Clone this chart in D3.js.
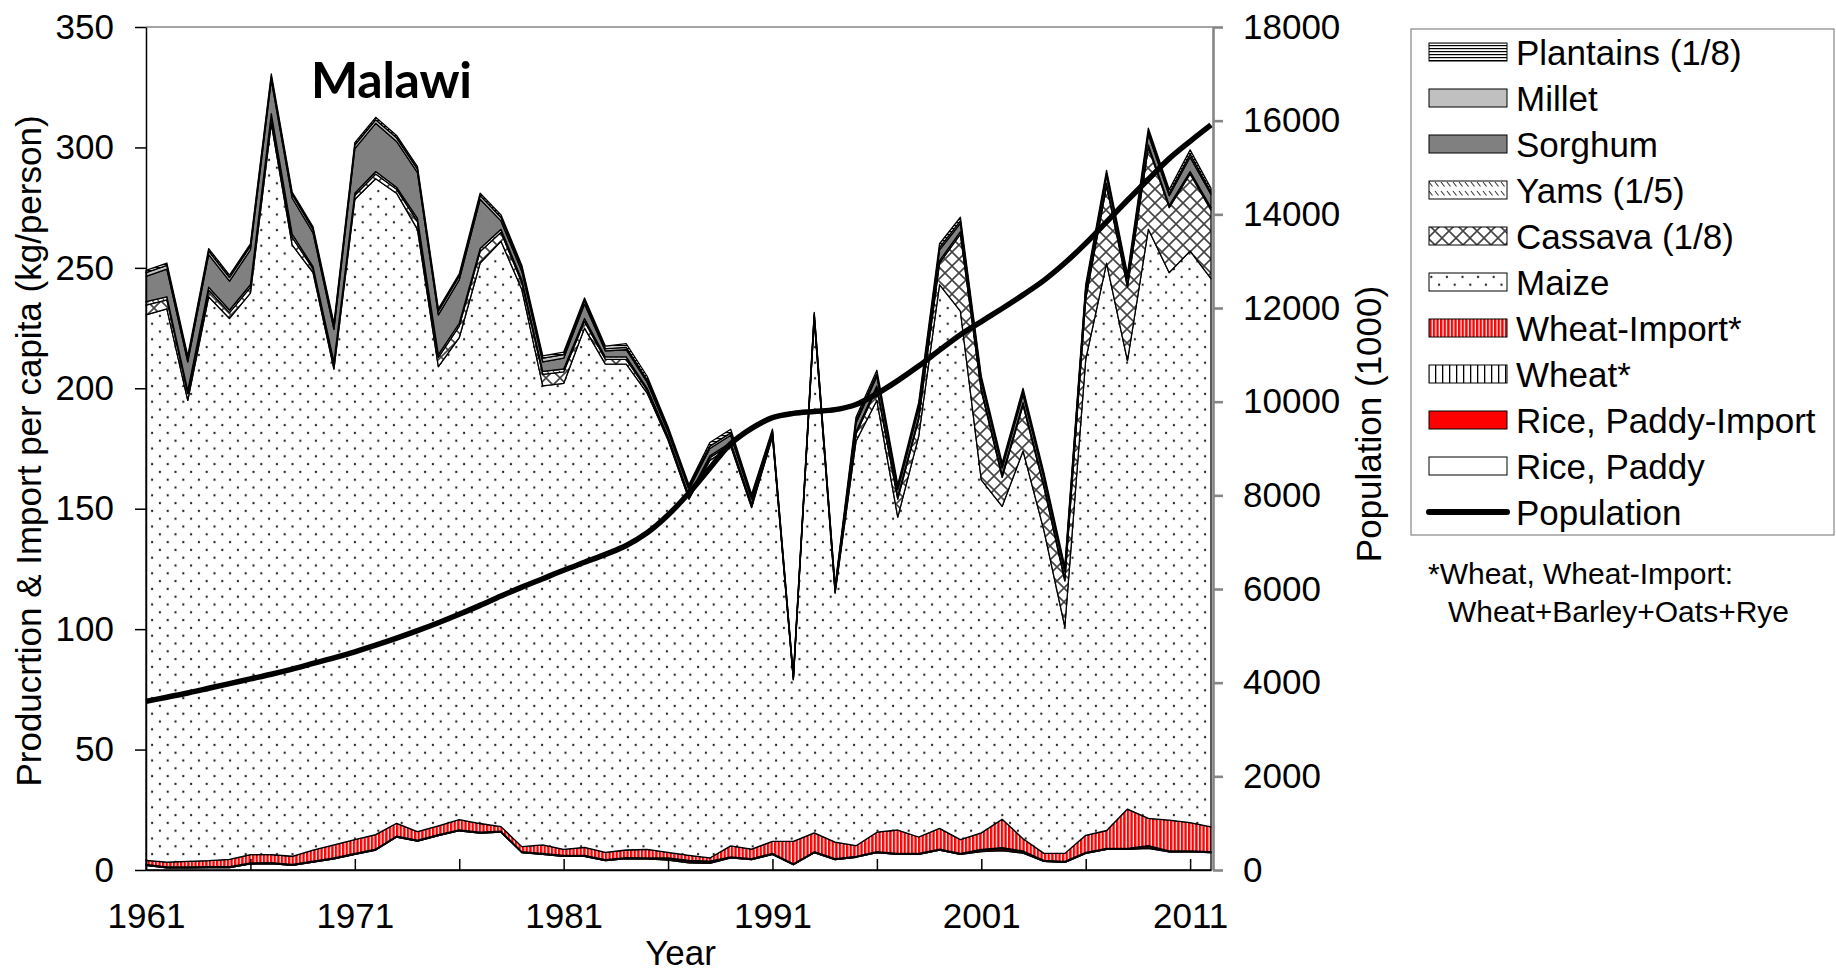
<!DOCTYPE html>
<html>
<head>
<meta charset="utf-8">
<script src="https://cdn.jsdelivr.net/npm/d3@7"></script>
<style>
  body { margin: 0; background: #fff; }
  svg text { font-family: "Liberation Sans", Arial, sans-serif; fill: #000; }
</style>
</head>
<body>
<svg id="chart" width="1836" height="972"></svg>
<script>
// values (kg/person, population in 1000)
const years = [1961,1962,1963,1964,1965,1966,1967,1968,1969,1970,
  1971,1972,1973,1974,1975,1976,1977,1978,1979,1980,
  1981,1982,1983,1984,1985,1986,1987,1988,1989,1990,
  1991,1992,1993,1994,1995,1996,1997,1998,1999,2000,
  2001,2002,2003,2004,2005,2006,2007,2008,2009,2010,
  2011,2012];

const ricePaddy = [1.9,0.9,0.9,1.0,1.0,2.5,2.7,1.9,3.3,4.6,
  6.5,8.3,13.7,12.0,14.3,16.3,15.3,15.7,7.2,6.5,
  5.7,5.7,3.9,4.7,4.6,4.1,3.0,2.8,5.0,4.3,
  6.5,2.2,7.2,4.3,5.3,7.2,6.5,6.5,8.3,6.5,
  7.6,8.1,7.0,3.6,3.2,6.9,8.6,8.6,9.0,7.5,
  7.5,7.2];
const riceImport = [0,0,0,0,0,0,0,0,0,0,
  0,0,0,0,0,0,0,0,0,0,
  0,0,0,0,0,0.5,0.6,0.5,0,0,
  0,0,0,0,0,0,0,0,0,0,
  0.6,0.8,0.5,0,0,0,0,0,0.7,0,
  0,0];
const wheat = [0.4,0.4,0.4,0.4,0.4,0.4,0.4,0.4,0.4,0.4,
  0.4,0.4,0.4,0.4,0.4,0.4,0.4,0.4,0.4,0.4,
  0.4,0.4,0.4,0.4,0.4,0.4,0.4,0.4,0.4,0.4,
  0.4,0.4,0.4,0.4,0.4,0.4,0.4,0.4,0.4,0.4,
  0.4,0.4,0.4,0.4,0.4,0.4,0.4,0.4,0.4,0.4,
  0.4,0.4];
const wheatImport = [1.7,2.0,2.3,2.5,3.0,3.5,3.3,3.4,4.6,5.4,
  5.7,6.0,5.3,3.5,3.6,4.2,3.6,1.9,2.1,3.5,
  2.5,3.3,3.0,3.2,3.6,2.3,2.1,1.3,4.6,4.0,
  5.0,9.3,7.8,6.9,4.4,8.1,9.7,6.8,8.6,5.7,
  6.8,11.8,5.1,2.9,3.3,7.1,7.4,16.3,11.3,12.8,
  11.8,10.3];
const maize = [226.5,229.7,191.4,234.1,224.6,233.1,303.6,253.8,239.7,197.6,
  265.9,272.3,261.6,250.1,190.7,200.1,232.7,243.0,231.3,190.6,
  193.4,215.6,202.7,201.7,189.4,171.2,147.9,165.0,166.0,141.8,
  168.1,67.1,213.1,103.4,167.9,179.3,129.9,166.3,225.7,219.4,
  146.6,129.9,161.0,134.1,94.1,197.6,235.6,186.2,244.6,227.3,
  237.3,227.6];
const cassava = [4.0,3.7,2.8,2.8,2.4,2.4,2.8,3.2,1.6,2.0,
  1.6,2.0,1.6,3.3,3.8,4.8,4.8,3.8,2.8,4.8,
  4.8,2.8,2.0,2.0,1.2,0.8,0.8,1.2,0.8,0.8,
  0.5,0.2,0.5,0.5,3.0,5.0,7.5,7.0,9.0,32.0,
  37.0,12.0,19.0,18.0,19.0,25.0,32.0,30.5,34.0,27.0,
  32.0,28.5];
const yams = [1.5,1.3,1.2,1.2,1.1,1.1,1.2,1.3,0.9,1.0,
  0.9,1.0,0.9,1.2,1.2,1.2,1.2,1.2,1.2,1.2,
  1.2,1.2,1.0,1.0,0.8,0.7,0.7,0.8,0.7,0.7,
  0.5,0.3,0.5,0.5,1.0,1.0,1.0,1.0,1.0,1.0,
  1.0,1.0,1.0,1.0,1.0,1.0,1.0,1.0,1.0,1.0,
  1.0,1.0];
const sorghum = [10.5,11.5,12.0,13.5,12.0,14.5,14.0,15.0,14.0,13.5,
  18.5,20.0,19.0,19.0,16.5,18.0,20.5,3.5,3.5,4.0,
  4.5,6.0,2.5,3.0,2.5,2.0,2.5,3.0,3.0,2.0,
  1.0,0.7,1.0,1.0,3.5,4.0,3.0,3.5,4.5,3.5,
  3.0,3.0,3.5,3.0,3.0,3.0,3.5,2.5,4.5,4.0,
  6.0,5.5];
const millet = [1.5,1.5,1.5,1.5,1.5,1.5,1.5,1.5,1.5,1.5,
  1.5,1.5,1.5,1.5,1.5,1.5,1.5,1.5,1.5,1.5,
  1.5,1.5,1.0,1.0,1.0,1.0,1.0,1.0,1.0,1.0,
  0.5,0.4,0.5,0.5,1.0,1.0,0.8,1.0,1.0,1.0,
  0.8,0.8,1.0,0.8,0.8,0.8,0.8,0.8,1.0,1.0,
  1.3,1.0];
const plantains = [1.0,1.0,1.0,1.0,1.0,1.0,1.0,1.0,1.0,1.0,
  1.0,1.0,1.0,1.0,1.0,1.0,1.0,1.0,1.0,1.0,
  1.0,1.0,1.0,1.5,1.5,1.0,1.0,1.5,1.5,1.0,
  0.5,0.4,0.5,0.5,1.5,1.5,1.2,1.5,1.5,1.5,
  1.2,1.2,1.5,1.2,1.2,1.2,1.2,1.2,1.5,1.5,
  1.7,1.5];
const population = [3600,3690,3780,3880,3980,4080,4180,4290,4410,4530,
  4660,4800,4950,5110,5280,5460,5650,5850,6040,6220,
  6400,6570,6740,6930,7200,7580,8050,8580,9100,9430,
  9660,9750,9790,9830,9940,10170,10450,10760,11100,11430,
  11710,11990,12280,12590,12960,13380,13840,14300,14750,15190,
  15560,15910];

const leftTicks = [0,50,100,150,200,250,300,350];
const rightTicks = [0,2000,4000,6000,8000,10000,12000,14000,16000,18000];
const xTickYears = [1961,1966,1971,1976,1981,1986,1991,1996,2001,2006,2011];
const xLabelYears = [1961,1971,1981,1991,2001,2011];

const seriesInfo = [
  { key: "ricePaddy",   label: "Rice, Paddy",        fill: "#ffffff" },
  { key: "riceImport",  label: "Rice, Paddy-Import", fill: "#ff0000" },
  { key: "wheat",       label: "Wheat*",             fill: "url(#pWheat)" },
  { key: "wheatImport", label: "Wheat-Import*",      fill: "url(#pWheatImp)" },
  { key: "maize",       label: "Maize",              fill: "url(#pMaize)" },
  { key: "cassava",     label: "Cassava (1/8)",      fill: "url(#pCassava)" },
  { key: "yams",        label: "Yams (1/5)",         fill: "url(#pYams)" },
  { key: "sorghum",     label: "Sorghum",            fill: "#808080" },
  { key: "millet",      label: "Millet",             fill: "#c0c0c0" },
  { key: "plantains",   label: "Plantains (1/8)",    fill: "url(#pPlantains)" }
];
const seriesData = { ricePaddy, riceImport, wheat, wheatImport, maize, cassava, yams, sorghum, millet, plantains };

const rows = years.map((yr, i) => {
  const r = { year: yr };
  seriesInfo.forEach(s => { r[s.key] = seriesData[s.key][i]; });
  return r;
});

const svg = d3.select("#chart");
const plotL = 146, plotR = 1211, plotT = 27, plotB = 870;

const x = d3.scaleLinear().domain([1961, 2012]).range([plotL, plotR]);
const yL = d3.scaleLinear().domain([0, 350]).range([plotB, plotT]);
const yR = d3.scaleLinear().domain([0, 18000]).range([plotB, plotT]);

// fill patterns
const defs = svg.append("defs");
function pat(id, w, h) {
  const p = defs.append("pattern").attr("id", id)
    .attr("patternUnits", "userSpaceOnUse").attr("width", w).attr("height", h);
  p.append("rect").attr("width", w).attr("height", h).attr("fill", "#fff");
  return p;
}
let p = pat("pMaize", 15.6, 15.6);
p.append("circle").attr("cx", 3.9).attr("cy", 3.9).attr("r", 1.15).attr("fill", "#222");
p.append("circle").attr("cx", 11.7).attr("cy", 11.7).attr("r", 1.15).attr("fill", "#222");

p = pat("pCassava", 14, 14);
p.append("path").attr("d", "M0,0L14,14M14,0L0,14").attr("stroke", "#444").attr("stroke-width", 1.6);

p = pat("pYams", 6, 9);
p.append("path").attr("d", "M1,2L4.5,6.5").attr("stroke", "#333").attr("stroke-width", 1.1);

p = pat("pPlantains", 6, 3);
p.append("rect").attr("y", 0).attr("width", 6).attr("height", 1.2).attr("fill", "#000");

p = pat("pWheatImp", 3.6, 6);
p.append("rect").attr("x", 0).attr("width", 2.4).attr("height", 6).attr("fill", "#ff0000");

p = pat("pWheat", 7, 6);
p.append("rect").attr("x", 0).attr("width", 1.3).attr("height", 6).attr("fill", "#000");

// stacked areas
const stacked = d3.stack().keys(seriesInfo.map(s => s.key))(rows);
const area = d3.area()
  .x(d => x(d.data.year))
  .y0(d => yL(d[0]))
  .y1(d => yL(d[1]));

svg.append("g").selectAll("path")
  .data(stacked)
  .enter().append("path")
  .attr("d", area)
  .attr("fill", (d, i) => seriesInfo[i].fill)
  .attr("stroke", "#000")
  .attr("stroke-width", 1.3)
  .attr("stroke-linejoin", "round");

// population on secondary axis
const popLine = d3.line()
  .x((d, i) => x(years[i]))
  .y(d => yR(d))
  .curve(d3.curveCatmullRom.alpha(0.5));
svg.append("path")
  .datum(population)
  .attr("d", popLine)
  .attr("fill", "none")
  .attr("stroke", "#000")
  .attr("stroke-width", 5.5);

// frame
svg.append("line").attr("x1", plotL).attr("x2", plotR + 2).attr("y1", plotT).attr("y2", plotT)
  .attr("stroke", "#868686").attr("stroke-width", 1.5);

// axes
const gL = svg.append("g").attr("transform", `translate(${plotL},0)`)
  .call(d3.axisLeft(yL).tickValues(leftTicks).tickSize(11).tickSizeOuter(0).tickPadding(21));
gL.selectAll("text").style("font-size", "35px");
gL.selectAll("line, path").attr("stroke", "#000").attr("stroke-width", 1.5);

const gR = svg.append("g").attr("transform", `translate(${plotR + 2},0)`)
  .call(d3.axisRight(yR).tickValues(rightTicks).tickFormat(d3.format("d"))
    .tickSize(10).tickSizeOuter(0).tickPadding(20));
gR.selectAll("text").style("font-size", "35px");
gR.selectAll("line, path").attr("stroke", "#868686").attr("stroke-width", 2.6);

const gX = svg.append("g").attr("transform", `translate(0,${plotB})`)
  .call(d3.axisBottom(x).tickValues(xTickYears).tickSize(-11).tickSizeOuter(0).tickPadding(33)
    .tickFormat(d => xLabelYears.includes(d) ? String(d) : ""));
gX.selectAll("text").style("font-size", "35px");
gX.selectAll("line, path").attr("stroke", "#000").attr("stroke-width", 1.5);

// titles
svg.append("text").attr("x", 311).attr("y", 98)
  .style("font-family", "Lato, 'Open Sans', sans-serif").style("font-weight", "bold")
  .style("font-size", "50px").attr("textLength", 161).text("Malawi");

svg.append("text").attr("transform", "translate(41,451) rotate(-90)")
  .attr("text-anchor", "middle").style("font-size", "35px")
  .text("Producrtion & Import per capita (kg/person)");

svg.append("text").attr("transform", "translate(1381,424) rotate(-90)")
  .attr("text-anchor", "middle").style("font-size", "35px")
  .text("Population (1000)");

svg.append("text").attr("x", (plotL + plotR) / 2 + 2).attr("y", 965)
  .attr("text-anchor", "middle").style("font-size", "35px").text("Year");

// legend
const lg = svg.append("g");
lg.append("rect").attr("x", 1411).attr("y", 29).attr("width", 423).attr("height", 506)
  .attr("fill", "#fff").attr("stroke", "#868686").attr("stroke-width", 1.2);

const legendItems = seriesInfo.slice().reverse();
legendItems.forEach((s, i) => {
  const cy = 52 + i * 46;
  lg.append("rect").attr("x", 1429).attr("y", cy - 9).attr("width", 78).attr("height", 18)
    .attr("fill", s.fill).attr("stroke", "#000").attr("stroke-width", 1);
  lg.append("text").attr("x", 1516).attr("y", cy + 12.5).style("font-size", "35px").text(s.label);
});
const cyPop = 52 + legendItems.length * 46;
lg.append("line").attr("x1", 1429).attr("x2", 1507).attr("y1", cyPop).attr("y2", cyPop)
  .attr("stroke", "#000").attr("stroke-width", 6).attr("stroke-linecap", "round");
lg.append("text").attr("x", 1516).attr("y", cyPop + 12.5).style("font-size", "35px").text("Population");

svg.append("text").attr("x", 1428).attr("y", 584).style("font-size", "30px").text("*Wheat, Wheat-Import:");
svg.append("text").attr("x", 1448).attr("y", 622).style("font-size", "30px").text("Wheat+Barley+Oats+Rye");
</script>
</body>
</html>
